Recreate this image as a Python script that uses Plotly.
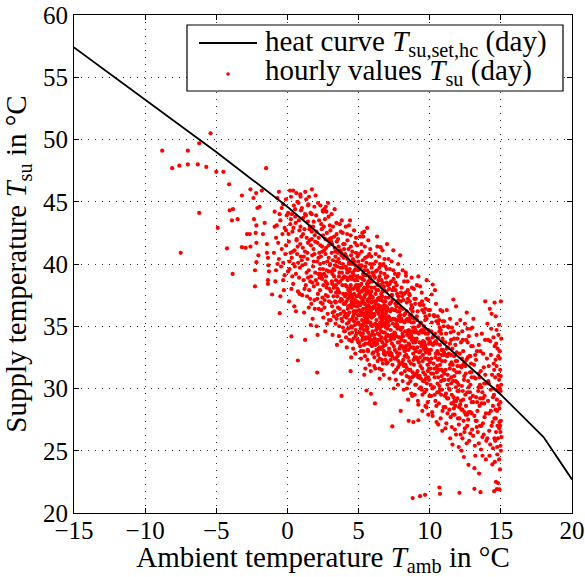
import plotly.graph_objects as go

# ---------------- data ----------------
# heat curve T_su,set,hc (day)
hc_x = [-15, -10, -5, 0, 5, 10, 15, 18, 20]
hc_y = [57.4, 53.2, 49.0, 44.6, 39.7, 34.6, 29.5, 26.1, 22.7]

# hourly values T_su (day) -- sparse cold / outlier points
pts_out = [(-8.8,49.1),(-8.1,47.7),(-7.6,47.9),(-7.0,49.1),(-7.0,48.0),(-6.3,48.0),(-6.2,49.7),(-5.7,47.8),
           (-5.4,50.5),(-5.0,47.4),(-4.5,47.4),(-4.1,46.4),(-3.2,45.5),(-2.6,46.0),(-2.2,45.7),(-1.8,45.9),
           (-1.5,47.7),(-6.2,44.1),(-7.5,40.9),(-4.9,42.9),(-4.25,41.25),(-3.85,39.2),(-4.06,44.3),(-3.83,44.4),
           (-3.9,43.5),(-3.5,43.6),(-2.84,42.4),(-2.65,42.4),(-2.23,42.5),(-2.18,43.1),(-2.35,43.6),(-2.39,45.3),
           (-2.11,44.5),(-1.95,44.6),(-3.2,41.35),(-2.94,41.3),(-2.6,41.4),(-2.18,41.7),(-2.04,40.7),(-2.18,40.15),
           (-2.28,39.5),(-2.28,38.2),(-1.72,42.4),(-1.6,43.3),(-1.44,41.6),(-1.44,40.9),(-1.37,40.5),(-1.34,39.9),
           (-1.3,39.4),(-1.37,38.7),(-1.37,38.4),(-1.08,37.55),(-0.54,36.05),(0.4,45.9),(0.92,45.4),(1.72,46.0),
           (0.28,34.18),(1.24,33.9),(0.73,32.25),(2.09,31.28),(3.8,29.4),(4.44,31.39),(5.87,29.57),(5.56,29.84),
           (6.15,28.8),(7.37,26.95),(7.96,28.2),(8.52,27.4),(8.85,27.3),(9.2,27.45),(8.8,21.2),(9.32,21.35),
           (9.67,21.46),(2.7,44.6),(2.5,44.2),(1.45,44.7)]

pts_m1 = [(-0.9,44.2),(-0.8,42.1),(-0.7,45.3),(-0.6,40.4),(-0.5,43.5),(-0.4,41.2),(-0.3,44.8),(-0.2,39.1),
          (-0.1,42.7),(-0.95,40.9),(-0.85,38.6),(-0.75,43.1),(-0.65,41.7),(-0.55,44.0),(-0.45,39.8),(-0.35,42.4),
          (-0.25,37.9),(-0.15,40.8),(-0.05,43.9),(-0.6,45.8),(-0.3,38.7),(-0.1,41.5),(-0.8,39.5),(-0.4,44.5),
          (-0.2,42.9),(-0.7,40.0),(-0.5,37.4),(-0.1,45.2),(-0.9,43.0),(-0.3,40.1)]

pts_0 = [(0.05,44.1),(0.1,41.8),(0.15,39.6),(0.2,43.2),(0.25,45.4),(0.3,40.5),(0.35,42.6),(0.4,38.4),(0.45,44.7),
         (0.5,41.1),(0.55,43.8),(0.6,39.2),(0.65,42.0),(0.7,45.0),(0.75,40.1),(0.8,43.5),(0.85,37.6),(0.9,41.6),
         (0.95,44.3),(0.12,37.0),(0.22,40.9),(0.32,44.0),(0.42,42.9),(0.52,39.8),(0.62,45.7),(0.72,41.4),(0.82,38.9),
         (0.92,43.0),(0.08,42.4),(0.18,45.9),(0.28,38.0),(0.38,41.0),(0.48,36.6),(0.58,43.3),(0.68,40.8),(0.78,44.9),
         (0.88,39.7),(0.98,42.2),(0.14,40.2),(0.34,39.0),(0.54,44.4),(0.74,37.8),(0.94,40.6),(0.24,43.6),(0.44,40.0),
         (0.64,41.9),(0.84,42.7),(0.04,39.4),(0.6,36.2),(0.9,45.6)]

pts_1 = [(1.02,44.5),(1.08,41.3),(1.14,38.7),(1.2,42.8),(1.26,40.0),(1.32,45.2),(1.38,37.4),(1.44,43.4),(1.5,39.5),
         (1.56,41.9),(1.62,44.1),(1.68,36.8),(1.74,40.7),(1.8,43.0),(1.86,38.2),(1.92,42.3),(1.98,45.5),(1.05,39.9),
         (1.11,43.7),(1.17,36.1),(1.23,41.0),(1.29,38.3),(1.35,42.1),(1.41,40.4),(1.47,44.8),(1.53,37.9),(1.59,43.0),
         (1.65,39.0),(1.71,42.6),(1.77,35.6),(1.83,41.2),(1.89,44.6),(1.95,39.3),(1.1,42.4),(1.3,43.9),(1.5,36.5),
         (1.7,44.0),(1.9,37.1),(1.25,45.8),(1.45,38.9),(1.65,41.5),(1.85,40.2),(1.15,40.6),(1.35,39.3),(1.55,42.8),
         (1.75,38.5),(1.95,41.8),(1.04,37.5),(1.24,44.0),(1.44,41.7),(1.64,35.1),(1.84,43.4),(1.4,40.9),(1.6,37.2),
         (1.8,39.8),(1.2,38.0),(1.0,40.3),(1.52,45.4),(1.72,42.0),(1.92,36.4)]

pts_2 = [(2.02,43.9),(2.08,40.2),(2.14,37.6),(2.2,42.1),(2.26,38.9),(2.32,44.7),(2.38,36.3),(2.44,41.4),(2.5,39.6),
         (2.56,43.0),(2.62,37.1),(2.68,40.8),(2.74,44.2),(2.8,38.4),(2.86,41.9),(2.92,35.5),(2.98,39.9),(2.05,35.0),
         (2.11,41.7),(2.17,39.2),(2.23,43.5),(2.29,37.9),(2.35,40.6),(2.41,42.8),(2.47,36.8),(2.53,38.3),(2.59,41.1),
         (2.65,34.6),(2.71,39.0),(2.77,42.5),(2.83,36.0),(2.89,43.8),(2.95,38.0),(2.1,38.4),(2.3,40.0),(2.5,42.3),
         (2.7,37.5),(2.9,40.5),(2.15,44.9),(2.35,36.9),(2.55,40.1),(2.75,39.5),(2.95,42.0),(2.04,42.6),(2.24,40.9),
         (2.44,38.8),(2.64,43.6),(2.84,37.4),(2.2,36.4),(2.4,39.1),(2.6,44.4),(2.8,40.2),(2.0,38.7),(2.12,34.3),
         (2.32,41.5),(2.52,35.7),(2.72,41.3),(2.92,37.0),(2.18,40.5),(2.38,43.2),(2.58,39.2),(2.78,35.2),(2.98,43.1),
         (2.28,39.6),(2.48,44.3),(2.68,38.6),(2.88,39.4),(2.46,37.3),(2.66,42.0),(2.86,44.9)]

pts_3 = [(3.02,42.7),(3.08,39.4),(3.14,36.6),(3.2,43.0),(3.26,38.1),(3.32,41.3),(3.38,35.2),(3.44,40.2),(3.5,37.4),
         (3.56,42.0),(3.62,39.0),(3.68,43.2),(3.74,36.0),(3.8,40.7),(3.86,38.3),(3.92,41.6),(3.98,34.6),(3.05,37.8),
         (3.11,40.9),(3.17,34.3),(3.23,39.6),(3.29,42.2),(3.35,37.0),(3.41,38.7),(3.47,41.8),(3.53,35.9),(3.59,40.4),
         (3.65,37.7),(3.71,41.1),(3.77,33.8),(3.83,39.3),(3.89,42.5),(3.95,36.8),(3.1,44.0),(3.3,36.2),(3.5,39.8),
         (3.7,38.6),(3.9,40.0),(3.15,41.6),(3.35,39.9),(3.55,36.5),(3.75,42.6),(3.95,38.9),(3.04,35.5),(3.24,37.4),
         (3.44,43.3),(3.64,35.0),(3.84,37.1),(3.2,40.3),(3.4,36.9),(3.6,41.4),(3.8,35.6),(3.0,40.0),(3.12,38.6),
         (3.32,44.4),(3.52,38.0),(3.72,39.7),(3.92,37.6),(3.18,36.1),(3.38,40.6),(3.58,38.5),(3.78,40.9),(3.98,41.2),
         (3.28,39.0),(3.48,33.5),(3.68,36.4),(3.88,39.7),(3.46,42.4),(3.66,40.1),(3.86,35.4),(3.26,35.8),(3.06,41.8),
         (3.56,37.9),(3.76,37.2),(3.96,40.5),(3.16,39.2),(3.36,41.0),(3.62,34.2),(3.82,43.5),(3.42,37.7)]

pts_4 = [(4.02,41.6),(4.08,38.3),(4.14,35.7),(4.2,42.4),(4.26,37.2),(4.32,40.1),(4.38,34.4),(4.44,39.0),(4.5,36.5),
         (4.56,41.0),(4.62,38.0),(4.68,42.7),(4.74,35.1),(4.8,39.6),(4.86,37.4),(4.92,40.6),(4.98,33.7),(4.05,36.8),
         (4.11,39.8),(4.17,33.3),(4.23,38.7),(4.29,41.2),(4.35,36.1),(4.41,37.7),(4.47,40.7),(4.53,34.9),(4.59,39.3),
         (4.65,36.7),(4.71,40.2),(4.77,32.8),(4.83,38.3),(4.89,41.5),(4.95,35.9),(4.1,43.0),(4.3,35.3),(4.5,38.8),
         (4.7,37.6),(4.9,39.0),(4.15,40.6),(4.35,38.9),(4.55,35.6),(4.75,41.7),(4.95,37.9),(4.04,34.6),(4.24,36.4),
         (4.44,42.3),(4.64,34.0),(4.84,36.2),(4.2,39.3),(4.4,43.5),(4.6,40.4),(4.8,34.7),(4.0,39.0),(4.12,37.6),
         (4.32,43.1),(4.52,37.0),(4.72,38.7),(4.92,36.6),(4.18,35.2),(4.38,39.6),(4.58,37.5),(4.78,39.9),(4.98,40.2),
         (4.28,38.0),(4.48,32.5),(4.68,35.4),(4.88,38.7),(4.46,41.4),(4.66,39.1),(4.86,34.4),(4.26,34.8),(4.06,40.8),
         (4.56,36.9),(4.76,36.2),(4.96,39.5),(4.16,38.2),(4.36,40.0),(4.62,33.2),(4.82,42.1),(4.42,36.7),(4.1,36.0),
         (4.3,37.9),(4.5,35.0),(4.7,36.9),(4.9,35.2),(4.22,41.9),(4.42,34.9),(4.62,37.2),(4.82,40.9),(4.34,33.9),
         (4.54,40.0),(4.74,38.1),(4.94,36.9),(4.14,37.0)]

pts_5 = [(5.02,40.8),(5.08,37.4),(5.14,34.8),(5.2,41.6),(5.26,36.3),(5.32,39.2),(5.38,33.5),(5.44,38.1),(5.5,35.6),
         (5.56,40.1),(5.62,37.1),(5.68,41.9),(5.74,34.2),(5.8,38.7),(5.86,36.5),(5.92,39.7),(5.98,32.8),(5.05,35.9),
         (5.11,38.9),(5.17,32.4),(5.23,37.8),(5.29,40.3),(5.35,35.2),(5.41,36.8),(5.47,39.8),(5.53,34.0),(5.59,38.4),
         (5.65,35.8),(5.71,39.3),(5.77,31.9),(5.83,37.4),(5.89,40.6),(5.95,35.0),(5.1,42.2),(5.3,34.4),(5.5,37.9),
         (5.7,36.7),(5.9,38.1),(5.15,39.7),(5.35,38.0),(5.55,34.7),(5.75,40.8),(5.95,37.0),(5.04,33.7),(5.24,35.5),
         (5.44,41.4),(5.64,33.1),(5.84,35.3),(5.2,38.4),(5.4,42.6),(5.6,39.5),(5.8,33.8),(5.0,38.1),(5.12,36.7),
         (5.32,42.2),(5.52,36.1),(5.72,37.8),(5.92,35.7),(5.18,34.3),(5.38,38.7),(5.58,36.6),(5.78,39.0),(5.98,39.3),
         (5.28,37.1),(5.48,31.6),(5.68,34.5),(5.88,37.8),(5.46,40.5),(5.66,38.2),(5.86,33.5),(5.26,33.9),(5.06,39.9),
         (5.56,36.0),(5.76,35.3),(5.96,38.6),(5.16,37.3),(5.36,39.1),(5.62,32.3),(5.82,41.2),(5.42,35.8),(5.1,35.1),
         (5.3,37.0),(5.5,34.1),(5.7,36.0),(5.9,34.3),(5.22,41.0),(5.42,34.0),(5.62,36.3),(5.82,40.0),(5.34,33.0),
         (5.54,39.1),(5.74,37.2),(5.94,36.0),(5.14,36.1),(5.24,36.9),(5.44,37.5),(5.64,35.5),(5.84,38.9),(5.04,37.6),
         (5.34,36.4),(5.54,35.0),(5.74,38.5),(5.94,33.4),(5.4,31.1),(5.66,33.0),(5.86,31.4),(5.26,42.5),(5.6,42.9),
         (5.16,33.0)]

pts_6 = [(6.02,40.0),(6.08,36.6),(6.14,34.0),(6.2,40.8),(6.26,35.5),(6.32,38.4),(6.38,32.7),(6.44,37.3),(6.5,34.8),
         (6.56,39.3),(6.62,36.3),(6.68,41.1),(6.74,33.4),(6.8,37.9),(6.86,35.7),(6.92,38.9),(6.98,32.0),(6.05,35.1),
         (6.11,38.1),(6.17,31.6),(6.23,37.0),(6.29,39.5),(6.35,34.4),(6.41,36.0),(6.47,39.0),(6.53,33.2),(6.59,37.6),
         (6.65,35.0),(6.71,38.5),(6.77,31.1),(6.83,36.6),(6.89,39.8),(6.95,34.2),(6.3,42.2),(6.3,33.6),(6.5,37.1),
         (6.7,35.9),(6.9,37.3),(6.15,38.9),(6.35,37.2),(6.55,33.9),(6.75,40.0),(6.95,36.2),(6.04,32.9),(6.24,34.7),
         (6.44,40.6),(6.64,32.3),(6.84,34.5),(6.2,37.6),(6.55,41.35),(6.6,38.7),(6.8,33.0),(6.0,37.3),(6.12,35.9),
         (6.32,41.4),(6.52,35.3),(6.72,37.0),(6.92,34.9),(6.18,33.5),(6.38,37.9),(6.58,35.8),(6.78,38.2),(6.98,38.5),
         (6.28,36.3),(6.48,30.8),(6.68,33.7),(6.88,37.0),(6.46,39.7),(6.66,37.4),(6.86,32.7),(6.26,33.1),(6.06,39.1),
         (6.56,35.2),(6.76,34.5),(6.96,37.8),(6.16,36.5),(6.36,38.3),(6.62,31.5),(6.82,40.4),(6.42,35.0),(6.1,34.3),
         (6.3,36.2),(6.5,33.3),(6.7,35.2),(6.9,33.5),(6.22,40.2),(6.42,33.2),(6.62,35.5),(6.82,39.2),(6.34,32.2),
         (6.54,38.3),(6.74,36.4),(6.94,35.2),(6.5,40.0),(6.97,39.6),(7.0,41.6),(6.4,36.7),(6.6,34.1),(6.8,36.7),
         (6.1,31.8)]

pts_7 = [(7.02,39.0),(7.08,35.8),(7.14,33.2),(7.2,39.6),(7.26,34.7),(7.32,37.5),(7.38,31.9),(7.44,41.1),(7.5,34.0),
         (7.56,39.2),(7.62,35.5),(7.68,38.3),(7.74,32.6),(7.8,37.1),(7.86,34.9),(7.92,40.7),(7.98,31.2),(7.05,34.3),
         (7.11,37.3),(7.17,30.8),(7.23,36.2),(7.29,38.6),(7.35,33.6),(7.41,35.2),(7.47,38.1),(7.53,32.4),(7.59,36.8),
         (7.65,34.2),(7.71,37.6),(7.77,30.3),(7.83,35.8),(7.79,40.0),(7.95,33.4),(7.1,40.4),(7.3,32.8),(7.5,36.3),
         (7.7,35.1),(7.9,36.5),(7.15,38.0),(7.35,36.4),(7.55,33.1),(7.75,39.0),(7.95,35.4),(7.04,32.1),(7.24,33.9),
         (7.44,39.5),(7.64,31.5),(7.84,33.7),(7.2,36.8),(7.6,37.9),(7.8,32.2),(7.0,36.5),(7.12,35.1),(7.32,40.2),
         (7.52,34.5),(7.72,36.2),(7.92,34.1),(7.18,32.7),(7.38,37.1),(7.58,35.0),(7.78,37.4),(7.98,37.7),(7.28,35.5),
         (7.48,30.0),(7.68,32.9),(7.88,36.2),(7.46,38.8),(7.66,36.6),(7.86,31.9),(7.26,32.3),(7.06,38.3),(7.56,34.4),
         (7.76,33.7),(7.96,37.0),(7.16,35.7),(7.36,37.5),(7.62,30.7),(7.82,39.2),(7.42,34.2)]

pts_8 = [(8.02,38.1),(8.08,34.9),(8.14,32.3),(8.2,38.6),(8.26,33.8),(8.33,39.05),(8.38,31.0),(8.44,35.6),(8.5,33.1),
         (8.56,37.6),(8.62,34.6),(8.68,36.4),(8.73,38.9),(8.8,36.2),(8.86,34.0),(8.92,37.2),(8.98,30.3),(8.05,33.4),
         (8.11,36.4),(8.17,29.9),(8.23,35.3),(8.29,37.7),(8.35,32.7),(8.41,34.3),(8.47,37.2),(8.53,31.5),(8.59,35.9),
         (8.65,33.3),(8.71,36.7),(8.77,29.4),(8.83,34.9),(8.89,38.0),(8.95,32.5),(8.1,39.5),(8.3,31.9),(8.5,35.4),
         (8.7,34.2),(8.9,35.6),(8.15,37.1),(8.35,35.5),(8.55,32.2),(8.75,38.1),(8.95,34.5),(8.04,31.2),(8.24,33.0),
         (8.44,38.6),(8.64,30.6),(8.84,32.8),(8.2,35.9),(8.6,37.0),(8.8,31.3),(8.0,35.6),(8.12,34.2),(8.32,39.3),
         (8.52,33.6),(8.72,35.3),(8.92,33.2),(8.18,31.8),(8.38,36.2),(8.58,34.1),(8.78,36.5),(8.98,36.8),(8.28,34.6),
         (8.48,29.1),(8.68,32.0),(8.88,35.3),(8.46,37.9),(8.66,35.7),(8.86,31.0),(8.26,31.4),(8.06,37.4),(8.56,33.5)]

pts_9 = [(9.02,37.2),(9.08,34.0),(9.14,31.4),(9.2,39.0),(9.26,32.9),(9.32,36.7),(9.38,30.1),(9.44,34.7),(9.5,32.2),
         (9.56,36.7),(9.62,33.7),(9.68,35.5),(9.74,30.8),(9.79,38.7),(9.86,33.1),(9.92,36.3),(9.98,29.4),(9.05,32.5),
         (9.11,35.5),(9.17,29.0),(9.23,34.4),(9.29,36.8),(9.35,31.8),(9.41,33.4),(9.47,36.3),(9.53,30.6),(9.59,35.0),
         (9.65,32.4),(9.71,35.8),(9.77,28.5),(9.83,34.0),(9.89,37.1),(9.95,31.6),(9.1,38.3),(9.3,31.0),(9.5,34.5),
         (9.7,33.3),(9.9,34.7),(9.15,36.2),(9.35,34.6),(9.55,31.3),(9.75,37.2),(9.95,33.6),(9.04,30.3),(9.24,32.1),
         (9.44,37.7),(9.64,29.7),(9.84,31.9),(9.2,35.0),(9.6,36.1),(9.8,30.4),(9.0,34.7),(9.12,33.3),(9.32,38.2),
         (9.52,32.7),(9.72,34.4),(9.92,32.3),(9.18,30.9),(9.38,35.3),(9.58,33.2),(9.78,35.6),(9.98,35.9),(9.28,33.7),
         (9.48,28.2),(9.68,31.1),(9.88,34.4),(9.46,37.0),(9.66,34.8),(9.86,28.9)]

pts_10 = [(10.02,36.3),(10.08,33.1),(10.14,37.55),(10.21,38.35),(10.26,32.0),(10.32,35.8),(10.37,37.9),(10.44,33.8),
          (10.5,31.3),(10.56,35.8),(10.62,32.8),(10.68,34.6),(10.74,29.9),(10.8,34.4),(10.86,32.2),(10.92,35.4),
          (10.98,28.5),(10.05,31.6),(10.11,34.6),(10.17,28.1),(10.23,33.5),(10.29,35.9),(10.35,30.9),(10.41,32.5),
          (10.47,35.4),(10.53,29.7),(10.59,34.1),(10.65,31.5),(10.71,34.9),(10.77,27.6),(10.83,33.1),(10.89,36.2),
          (10.95,30.7),(10.1,29.4),(10.3,30.1),(10.5,33.6),(10.7,32.4),(10.9,33.8),(10.15,35.3),(10.35,33.7),
          (10.55,30.4),(10.75,36.3),(10.95,32.7),(10.04,29.4),(10.24,31.2),(10.44,36.8),(10.64,28.8),(10.84,31.0),
          (10.2,34.1),(10.6,35.2),(10.8,29.5),(10.0,33.8),(10.12,32.4),(10.52,31.8),(10.72,33.5),(10.92,31.4),
          (10.18,30.0),(10.38,34.4),(10.58,32.3),(10.78,34.7),(10.98,35.0),(10.48,27.3),(10.68,30.2),(10.88,26.6),
          (10.68,22.05),(10.72,21.54)]

pts_11 = [(11.02,35.4),(11.08,32.2),(11.14,29.6),(11.2,36.3),(11.26,31.1),(11.32,34.9),(11.38,28.3),(11.43,35.6),
          (11.5,30.4),(11.56,34.9),(11.62,31.9),(11.66,37.15),(11.74,29.0),(11.8,33.5),(11.85,36.6),(11.9,35.2),
          (11.98,27.6),(11.05,30.7),(11.11,33.7),(11.17,27.2),(11.23,32.6),(11.29,35.0),(11.35,30.0),(11.41,31.6),
          (11.47,34.5),(11.53,28.8),(11.59,33.2),(11.65,30.6),(11.71,34.0),(11.77,26.7),(11.83,32.2),(11.89,31.3),
          (11.95,29.8),(11.1,28.5),(11.3,29.2),(11.5,32.7),(11.7,31.5),(11.9,32.9),(11.15,34.4),(11.35,32.8),
          (11.55,29.5),(11.75,27.9),(11.95,31.8),(11.04,28.5),(11.24,30.3),(11.44,26.0),(11.64,27.9),(11.84,30.1),
          (11.2,33.2),(11.6,25.5),(11.8,28.6),(11.0,32.9),(11.12,31.5),(11.52,30.9),(11.72,32.6),(11.92,30.5),
          (11.42,33.6),(11.68,29.3)]

pts_12 = [(12.02,34.4),(12.08,31.3),(12.14,28.7),(12.2,33.7),(12.26,30.2),(12.32,33.9),(12.38,27.4),(12.44,32.1),
          (12.5,29.5),(12.56,33.9),(12.6,36.1),(12.68,32.5),(12.74,28.1),(12.8,32.6),(12.86,30.3),(12.92,33.4),
          (12.98,26.7),(12.05,29.8),(12.11,32.8),(12.17,26.3),(12.23,31.7),(12.29,34.6),(12.35,29.1),(12.41,30.7),
          (12.47,35.2),(12.53,27.9),(12.59,32.3),(12.65,29.7),(12.72,23.87),(12.77,25.8),(12.83,31.3),(12.89,34.8),
          (12.95,28.9),(12.1,27.6),(12.3,28.3),(12.5,31.8),(12.7,30.6),(12.9,32.0),(12.15,35.5),(12.35,31.9),
          (12.55,28.6),(12.75,34.2),(12.95,30.9),(12.04,25.3),(12.24,25.0),(12.44,26.5),(12.64,27.0),(12.84,29.2),
          (12.4,24.5),(12.09,21.62)]

pts_13 = [(13.02,33.4),(13.07,35.6),(13.14,27.8),(13.2,32.7),(13.26,29.3),(13.32,33.0),(13.38,26.5),(13.44,31.2),
          (13.5,28.6),(13.56,33.0),(13.62,30.1),(13.66,34.4),(13.74,27.2),(13.8,31.7),(13.86,29.4),(13.9,37.0),
          (13.98,25.8),(13.05,28.9),(13.11,31.9),(13.17,25.4),(13.23,30.8),(13.29,34.3),(13.35,28.2),(13.41,29.8),
          (13.47,23.17),(13.53,27.0),(13.59,31.4),(13.65,28.8),(13.71,24.6),(13.14,23.6),(13.83,30.4),(13.89,33.9),
          (13.95,28.0),(13.0,34.9),(13.3,27.4),(13.5,30.9),(13.7,29.7),(13.9,31.1),(13.6,25.1),(13.8,26.3),
          (13.14,21.94),(13.57,21.67)]

pts_14 = [(14.02,32.4),(14.1,29.0),(14.18,26.6),(14.25,33.8),(14.3,28.2),(14.38,31.1),(14.45,25.2),(14.48,34.1),
          (14.55,27.6),(14.6,30.9),(14.67,33.6),(14.72,29.1),(14.8,26.0),(14.83,34.3),(14.9,28.4),(14.95,31.5),
          (15.0,27.4),(14.05,35.2),(14.12,30.6),(14.2,24.6),(14.28,29.9),(14.35,36.0),(14.42,27.3),(14.5,32.0),
          (14.58,24.1),(14.64,35.8),(14.7,31.8),(14.76,27.0),(14.85,29.8),(14.92,33.0),(14.97,25.4),(15.02,30.3),
          (14.15,31.8),(14.32,34.8),(14.52,29.5),(14.66,26.5),(14.78,30.2),(14.88,24.3),(14.96,28.9),(15.04,26.1),
          (14.4,23.9),(14.62,28.3),(14.82,32.6),(14.98,29.8),(14.9,27.3),(14.94,23.5),(14.74,25.3),(14.56,36.9),
          (15.0,37.0),(14.22,36.4),(14.86,35.1),(14.46,30.0),(14.7,34.7),(14.99,31.0),(14.6,25.8),(14.53,21.75),
          (14.72,21.91),(14.9,21.89),(14.8,22.4),(14.1,33.9),(14.44,28.6),(14.88,26.8),(15.03,34.0),(14.66,22.5),
          (14.3,32.7)]

# extra points of the dense core of the cloud
pts_core = [(1.6,38.6),(1.9,40.8),(2.1,37.2),(2.3,39.2),(2.45,41.0),(2.6,36.5),(2.75,38.1),(2.9,41.5),(3.05,36.9),
            (3.15,38.4),(3.3,39.5),(3.45,35.6),(3.55,40.9),(3.7,37.0),(3.85,38.8),(3.95,36.2),(3.1,42.1),(3.4,38.3),
            (3.65,39.3),(3.9,34.9),(4.05,37.4),(4.15,39.6),(4.25,35.9),(4.35,37.5),(4.45,38.3),(4.55,34.5),(4.65,36.2),
            (4.75,37.1),(4.85,35.6),(4.95,38.3),(4.08,36.0),(4.18,38.9),(4.28,36.6),(4.38,35.5),(4.48,37.3),(4.58,38.9),
            (4.68,36.0),(4.78,34.2),(4.88,37.0),(4.98,35.3),(4.12,34.1),(4.32,39.4),(4.52,33.8),(4.72,39.5),(4.92,33.9),
            (4.22,40.4),(4.42,38.0),(4.62,35.8),(4.82,36.6),(4.02,35.8),(5.03,36.3),(5.13,38.3),(5.23,34.9),(5.33,36.0),
            (5.43,36.8),(5.53,37.6),(5.63,34.8),(5.73,35.8),(5.83,36.2),(5.93,37.4),(5.07,34.5),(5.17,35.9),(5.27,38.8),
            (5.37,34.7),(5.47,35.4),(5.57,38.0),(5.67,37.0),(5.77,34.0),(5.87,35.1),(5.97,36.4),(5.09,36.9),(5.19,37.8),
            (5.29,35.1),(5.39,37.3),(5.49,33.6),(5.59,35.3),(5.69,38.6),(5.79,36.5),(5.89,33.9),(5.99,34.6),(5.11,33.4),
            (5.31,34.1),(5.51,36.4),(5.71,33.6),(5.91,36.9),(5.21,39.9),(5.41,39.5),(5.61,40.6),(5.81,37.6),(5.45,32.6),
            (6.03,35.8),(6.13,37.0),(6.23,33.8),(6.33,35.1),(6.43,36.3),(6.53,36.6),(6.63,33.2),(6.73,35.6),(6.83,35.1),
            (6.93,36.6),(6.07,33.7),(6.17,35.2),(6.27,37.9),(6.37,33.9),(6.47,34.3),(6.57,37.2),(6.67,36.1),(6.77,32.8),
            (6.87,34.0),(6.97,35.5),(6.09,36.0),(6.19,36.8),(6.29,34.9),(6.39,36.4),(6.49,32.4),(6.59,34.6),(6.69,37.8),
            (6.79,35.3),(6.89,32.3),(6.99,33.8),(6.11,32.5),(6.31,33.0),(6.51,35.7),(6.71,32.0),(6.91,36.0),(6.21,39.4),
            (6.41,38.7),(6.61,39.9),(6.81,36.4),(6.45,31.6),(7.03,34.8),(7.13,36.3),(7.23,32.9),(7.33,34.3),(7.43,35.6),
            (7.53,35.6),(7.63,32.4),(7.73,34.8),(7.83,34.1),(7.93,35.9),(7.07,32.9),(7.17,34.2),(7.27,36.9),(7.37,32.6),
            (7.47,33.4),(7.57,36.3),(7.67,35.2),(7.77,31.7),(7.87,33.2),(7.97,34.7),(7.09,35.4),(7.29,34.0),(7.49,31.3),
            (7.69,36.8),(7.89,32.8),(7.19,38.4),(7.39,37.9),(7.59,38.5),(7.79,35.5),(7.99,32.0),(8.03,33.9),(8.13,35.4),
            (8.23,31.9),(8.33,33.4),(8.43,34.6),(8.53,34.7),(8.63,31.5),(8.73,33.9),(8.83,33.3),(8.93,34.9),(8.07,32.1),
            (8.17,33.2),(8.27,36.0),(8.37,31.7),(8.47,32.5),(8.57,35.5),(8.67,34.4),(8.77,30.9),(8.87,32.3),(8.97,33.7),
            (8.09,34.4),(8.29,33.1),(8.49,30.4),(8.69,35.9),(8.89,31.9),(8.19,37.6),(8.39,36.9),(8.59,37.5),(8.79,34.6),
            (8.99,31.1),(9.03,33.0),(9.13,34.5),(9.23,31.0),(9.33,32.5),(9.43,33.6),(9.53,33.8),(9.63,30.6),(9.73,32.9),
            (9.83,32.4),(9.93,34.0),(9.07,31.2),(9.17,32.3),(9.27,35.1),(9.37,30.8),(9.47,31.6),(9.57,34.6),(9.67,33.5),
            (9.77,29.9),(9.87,31.4),(9.97,32.8),(9.09,35.8),(9.29,30.0),(9.49,29.5),(9.69,36.4),(9.89,30.9),(10.03,32.1),
            (10.13,33.6),(10.23,30.1),(10.33,31.6),(10.43,32.8),(10.53,33.0),(10.63,29.7),(10.73,31.9),(10.83,31.5),
            (10.93,33.1),(10.07,30.3),(10.27,34.2),(10.47,28.6),(10.67,35.5),(10.87,29.9),(11.03,31.2),(11.13,32.7),
            (11.23,29.2),(11.33,30.7),(11.43,31.9),(11.53,32.1),(11.63,28.8),(11.73,31.0),(11.83,30.6),(11.93,32.2),
            (11.07,29.4),(11.27,33.3),(11.47,27.7),(11.67,34.6),(11.87,29.0),(12.03,30.3),(12.13,31.8),(12.23,28.3),
            (12.33,29.8),(12.43,31.0),(12.53,31.2),(12.63,27.9),(12.73,30.1),(12.83,29.7),(12.93,31.3),(12.07,28.5),
            (12.27,32.4),(12.47,26.8),(12.67,33.7),(12.87,28.1),(13.03,29.4),(13.13,30.9),(13.23,27.4),(13.33,28.9),
            (13.43,30.1),(13.53,30.3),(13.63,27.0),(13.73,29.2),(13.83,28.8),(13.93,30.4),(14.53,31.5),(14.63,32.3),
            (14.73,28.2),(14.83,31.1),(14.93,32.4),(14.97,26.5),(14.87,30.7),(14.77,33.2),(14.67,29.9),(14.57,33.4)]

# extra points of the warm (lower right) part of the cloud
pts_warm = [(10.2,27.8),(10.4,29.0),(10.6,27.1),(10.8,30.6),(10.9,28.2),(11.1,26.8),(11.25,28.0),(11.4,29.9),
            (11.55,26.9),(11.7,28.4),(11.85,26.3),(11.95,29.2),(12.05,27.1),(12.2,29.0),(12.3,26.0),(12.45,28.1),
            (12.6,25.6),(12.7,27.5),(12.85,26.4),(12.95,28.0),(13.05,26.2),(13.2,24.6),(13.3,26.9),(13.45,25.6),
            (13.55,29.2),(13.7,26.1),(13.85,27.7),(13.95,24.3),(14.05,26.0),(14.15,28.0),(14.25,25.5),(14.35,27.0),
            (14.45,29.3),(14.55,26.0),(14.65,27.6),(14.75,24.7),(14.85,28.7),(14.95,27.0),(15.0,25.0),(14.92,30.0),
            (12.35,33.0),(12.85,32.6),(13.25,32.3),(13.75,32.8),(14.15,30.4),(13.45,33.5),(12.65,34.8),(11.5,33.9),
            (10.9,34.0),(11.95,34.0),(8.1,30.6),(8.4,30.0),(8.7,29.6),(8.95,29.5),(9.2,28.7),(9.45,29.9),(9.7,28.6),
            (9.9,27.9),(9.05,33.9),(9.35,33.0),(9.65,33.1),(9.95,30.7),(8.25,32.6),(8.55,30.9),(8.85,33.7),(10.1,31.2),
            (10.35,29.5),(10.6,30.9),(10.85,32.7),(10.45,31.6)]

x_ticks = [-15, -10, -5, 0, 5, 10, 15, 20]
y_ticks = [20, 25, 30, 35, 40, 45, 50, 55, 60]

# ---------------- figure ----------------
groups = [pts_out, pts_m1, pts_0, pts_1, pts_2, pts_3, pts_4, pts_5, pts_6, pts_7,
          pts_8, pts_9, pts_10, pts_11, pts_12, pts_13, pts_14, pts_core, pts_warm]
sx = [p[0] for g in groups for p in g]
sy = [p[1] for g in groups for p in g]

FONT = "Liberation Serif"
FS_TICK = 25
FS_TITLE = 29
FS_LEG = 29
W, H = 585, 577
PX0, PX1, PY0, PY1 = 74, 572, 15, 513   # plot area in page pixels
L, R, T, B = PX0, W - PX1, PY0, H - PY1

fig = go.Figure()
fig.add_trace(go.Scatter(x=sx, y=sy, mode="markers",
                         marker=dict(color="#ff0000", size=4.2, line=dict(width=0)),
                         showlegend=False, hoverinfo="skip"))
fig.add_trace(go.Scatter(x=hc_x, y=hc_y, mode="lines",
                         line=dict(color="black", width=1.8), showlegend=False))

axis_common = dict(showline=True, linecolor="black", linewidth=1.2, mirror="ticks",
                   ticks="inside", ticklen=5, tickcolor="black", tickwidth=1,
                   showgrid=True, gridcolor="#333333", gridwidth=1, griddash="1px,6px",
                   zeroline=False, ticklabeloverflow="allow",
                   tickfont=dict(family=FONT, size=FS_TICK, color="black"))

fig.update_xaxes(range=[-15, 20], tickvals=x_ticks,
                 ticktext=[str(v).replace("-", "\u2212") for v in x_ticks],
                 ticklabelstandoff=-5,
                 title=dict(text="Ambient temperature <i>T</i><sub>amb</sub> in °C",
                            font=dict(family=FONT, size=FS_TITLE, color="black"), standoff=0),
                 **axis_common)
fig.update_yaxes(range=[20, 60], tickvals=y_ticks,
                 title=dict(text="Supply temperature <i>T</i><sub>su</sub> in °C",
                            font=dict(family=FONT, size=FS_TITLE, color="black"), standoff=7),
                 **axis_common)

pw, ph = PX1 - PX0, PY1 - PY0
def fx(px):
    return (px - PX0) / pw
def fy(py):
    return (PY1 - py) / ph

shapes = [
    dict(type="rect", xref="paper", yref="paper", x0=fx(187), x1=fx(563), y0=fy(91), y1=fy(25),
         line=dict(color="black", width=1.2), fillcolor="white", layer="above"),
    dict(type="line", xref="paper", yref="paper", x0=fx(199), x1=fx(257), y0=fy(43), y1=fy(43),
         line=dict(color="black", width=1.8), layer="above"),
    dict(type="circle", xref="paper", yref="paper", x0=fx(226.2), x1=fx(229.8), y0=fy(75.8), y1=fy(72.2),
         line=dict(width=0), fillcolor="#ff0000", layer="above"),
]
annotations = [
    dict(xref="paper", yref="paper", x=fx(263), y=fy(43), xanchor="left", yanchor="middle", showarrow=False,
         text="heat curve <i>T</i><sub>su,set,hc</sub> (day)", font=dict(family=FONT, size=FS_LEG, color="black")),
    dict(xref="paper", yref="paper", x=fx(263), y=fy(72), xanchor="left", yanchor="middle", showarrow=False,
         text="hourly values <i>T</i><sub>su</sub> (day)", font=dict(family=FONT, size=FS_LEG, color="black")),
]

fig.update_layout(width=W, height=H, margin=dict(l=L, r=R, t=T, b=B, autoexpand=False),
                  paper_bgcolor="white", plot_bgcolor="white",
                  shapes=shapes, annotations=annotations, showlegend=False)

# remove the browser's default 8px page margin so the figure sits at the page origin
fig.write_html("out.html", config={"displayModeBar": False},
               post_script="document.body.style.margin='0';")
